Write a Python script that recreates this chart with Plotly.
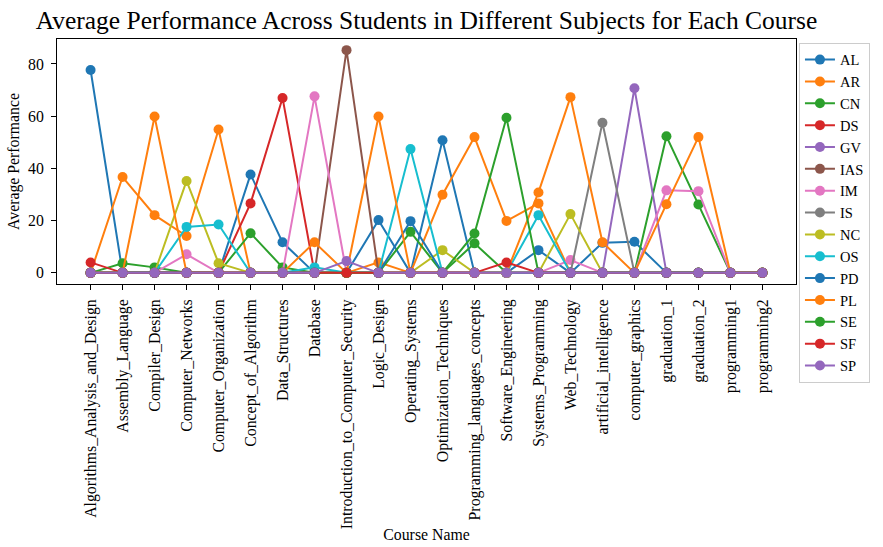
import plotly.graph_objects as go

courses = [
    "Algorithms_Analysis_and_Design", "Assembly_Language", "Compiler_Design",
    "Computer_Networks", "Computer_Organization", "Concept_of_Algorithm",
    "Data_Structures", "Database", "Introduction_to_Computer_Security",
    "Logic_Design", "Operating_Systems", "Optimization_Techniques",
    "Programming_languages_concepts", "Software_Engineering", "Systems_Programming",
    "Web_Technology", "artificial_intelligence", "computer_graphics",
    "graduation_1", "graduation_2", "programming1", "programming2",
]

AL  = [77.7, 0, 0, 0, 0, 37.7, 11.7, 0, 0, 20.2, 0, 50.8, 0, 0, 8.7, 0, 11.5, 11.9, 0, 0, 0, 0]
AR  = [0, 36.7, 22.1, 14.1, 54.9, 0, 0, 0, 0, 4.0, 0, 29.9, 52.0, 19.9, 26.6, 0, 0, 0, 0, 0, 0, 0]
CN  = [0, 3.7, 2.1, 0, 0, 15.2, 2.1, 0, 0, 0, 15.7, 0, 11.3, 0, 0, 0, 0, 0, 52.3, 26.2, 0, 0]
DS  = [4.0, 0, 0, 0, 0, 26.6, 67.0, 0, 0, 0, 0, 0, 0, 0, 0, 0, 0, 0, 0, 0, 0, 0]
GV  = [0, 0, 0, 0, 0, 0, 0, 0, 0, 0, 0, 0, 0, 0, 0, 0, 0, 70.7, 0, 0, 0, 0]
IAS = [0, 0, 0, 0, 0, 0, 0, 0, 85.3, 0, 0, 0, 0, 0, 0, 0, 0, 0, 0, 0, 0, 0]
IM  = [0, 0, 0, 7.1, 0, 0, 0, 67.6, 0, 0, 0, 0, 0, 0, 0, 4.9, 0, 0, 31.6, 31.3, 0, 0]
IS  = [0, 0, 0, 0, 0, 0, 0, 0, 0, 0, 0, 0, 0, 0, 0, 0, 57.5, 0, 0, 0, 0, 0]
NC  = [0, 0, 0, 35.2, 3.7, 0, 0, 0, 0, 0, 0, 8.7, 0, 0, 0, 22.5, 0, 0, 0, 0, 0, 0]
OS  = [0, 0, 0, 17.6, 18.5, 0, 0, 2.1, 0, 0, 47.4, 0, 0, 0, 22.1, 0, 0, 0, 0, 0, 0, 0]
PD  = [0, 0, 0, 0, 0, 0, 0, 0, 0, 0, 19.8, 0, 0, 0, 0, 0, 0, 0, 0, 0, 0, 0]
PL  = [0, 0, 59.9, 0, 0, 0, 0, 11.7, 0, 59.9, 0, 0, 0, 0, 30.8, 67.3, 11.7, 0, 26.3, 52.0, 0, 0]
SE  = [0, 0, 0, 0, 0, 0, 0, 0, 0, 0, 0, 0, 15.1, 59.4, 0, 0, 0, 0, 0, 0, 0, 0]
SF  = [0, 0, 0, 0, 0, 0, 0, 0, 0, 0, 0, 0, 0, 4.0, 0, 0, 0, 0, 0, 0, 0, 0]
SP  = [0, 0, 0, 0, 0, 0, 0, 0, 4.5, 0, 0, 0, 0, 0, 0, 0, 0, 0, 0, 0, 0, 0]

subjects = ["AL", "AR", "CN", "DS", "GV", "IAS", "IM", "IS", "NC", "OS", "PD", "PL", "SE", "SF", "SP"]
series = [AL, AR, CN, DS, GV, IAS, IM, IS, NC, OS, PD, PL, SE, SF, SP]

tab10 = ["#1f77b4", "#ff7f0e", "#2ca02c", "#d62728", "#9467bd",
         "#8c564b", "#e377c2", "#7f7f7f", "#bcbd22", "#17becf"]

x_idx = list(range(len(courses)))

fig = go.Figure()
for i, (name, vals) in enumerate(zip(subjects, series)):
    c = tab10[i % 10]
    fig.add_trace(go.Scatter(
        x=x_idx, y=vals, name=name, mode="lines+markers",
        line=dict(color=c, width=2),
        marker=dict(color=c, size=10),
    ))

all_vals = [v for s in series for v in s]
vmax, vmin = max(all_vals), min(all_vals)
pad = 0.05 * (vmax - vmin)
npts = len(courses) - 1
xpad = 0.05 * npts

serif = "Liberation Serif, Times New Roman, serif"
fs = 15.8

fig.update_layout(
    width=883, height=547,
    margin=dict(l=57, r=87, t=39, b=263),
    paper_bgcolor="white", plot_bgcolor="white",
    font=dict(family=serif, color="black", size=fs),
    title=dict(text="Average Performance Across Students in Different Subjects for Each Course",
               x=0.5, xref="paper", xanchor="center", y=0.963, yanchor="middle",
               font=dict(family=serif, size=25.5, color="black")),
    showlegend=True,
    legend=dict(x=1.004, y=0.985, xanchor="left", yanchor="top",
                bordercolor="#cccccc", borderwidth=1, bgcolor="white",
                font=dict(family=serif, size=14.5, color="black"),
                tracegroupgap=0, itemwidth=30, maxheight=520),
)

fig.update_xaxes(
    range=[-xpad, npts + xpad],
    tickmode="array", tickvals=x_idx, ticktext=courses, tickangle=-90,
    ticks="outside", ticklen=5, tickcolor="black", tickwidth=1,
    ticklabelstandoff=3,
    showline=True, linecolor="black", linewidth=1, mirror=True,
    showgrid=False, zeroline=False, automargin=False,
    tickfont=dict(family=serif, size=fs, color="black"),
    title=dict(text="Course Name", font=dict(family=serif, size=fs, color="black"), standoff=0),
)
fig.update_yaxes(
    range=[vmin - pad, vmax + pad],
    tickmode="array", tickvals=[0, 20, 40, 60, 80],
    ticks="outside", ticklen=5, tickcolor="black", tickwidth=1,
    ticklabelstandoff=4,
    showline=True, linecolor="black", linewidth=1, mirror=True,
    showgrid=False, zeroline=False, automargin=False,
    tickfont=dict(family=serif, size=fs, color="black"),
    title=dict(text="Average Performance", font=dict(family=serif, size=fs, color="black"), standoff=4),
)

fig.write_html("out.html", config={"displayModeBar": False},
               post_script="document.body.style.margin='0';")
